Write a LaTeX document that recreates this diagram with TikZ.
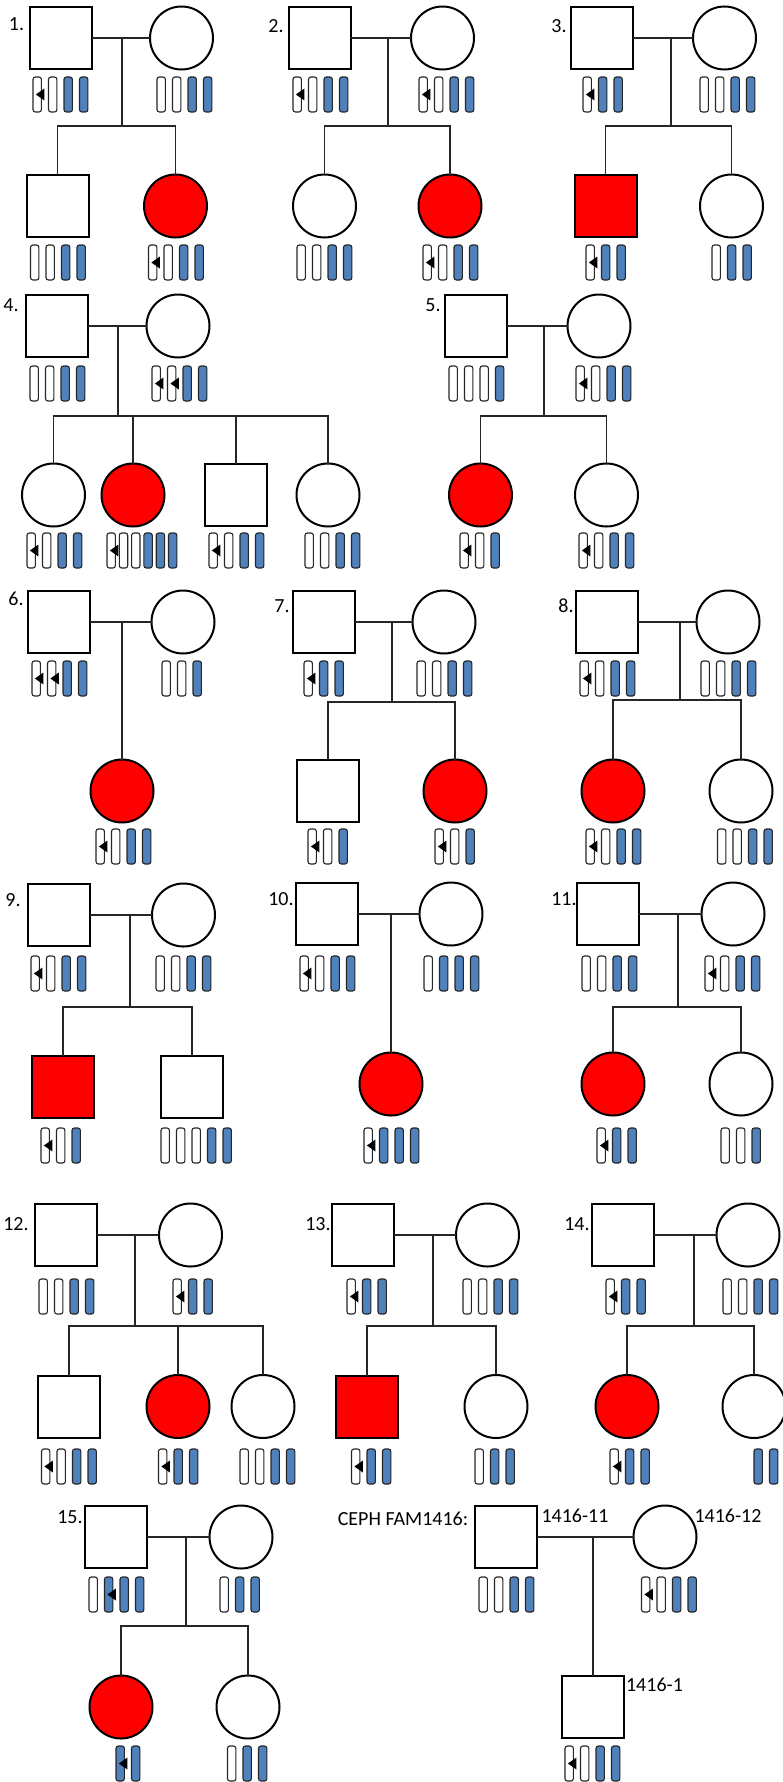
\documentclass[tikz,border=0pt]{standalone}
\usepackage{fontspec}
\setmainfont{Carlito}
\definecolor{alleleblue}{RGB}{79,129,189}
\definecolor{affected}{RGB}{255,0,0}

% one row of allele bars: name prefix, left x, top y, pitch, list of types
% types: w = plain, a = plain with variant mark, b = blue, c = blue with variant mark
\newcommand{\alleles}[5]{%
  \foreach \t [count=\i] in {#5} {%
    \node[allele-\t] (#1-\i) at ({#2+(\i-1)*#4},#3) {};
    \path[mut-\t] ([xshift=1.5pt]#1-\i.east) -- ++(0,6) -- ++(-8.5,-6) -- ++(8.5,-6) -- cycle;
  }%
}

\begin{document}
\begin{tikzpicture}[x=0.5pt,y=-0.5pt,
  male/.style={draw=black, line width=1pt, fill=white, minimum size=31pt, inner sep=0pt, outer sep=0pt},
  female/.style={circle, draw=black, line width=1pt, fill=white, minimum size=31.5pt, inner sep=0pt, outer sep=0pt},
  aff/.style={fill=affected},
  link/.style={draw=black!85, line width=0.75pt},
  allele/.style={draw=black!85, line width=0.55pt, rounded corners=1.2pt, minimum width=4.2pt, minimum height=17.5pt, inner sep=0pt, outer sep=0pt, anchor=north west},
  allele-w/.style={allele, fill=white},
  allele-a/.style={allele, fill=white},
  allele-b/.style={allele, fill=alleleblue},
  allele-c/.style={allele, fill=alleleblue},
  mut-w/.style={}, mut-b/.style={},
  mut-a/.style={fill=black}, mut-c/.style={fill=black},
  lab/.style={font=\fontsize{10}{12}\selectfont, inner sep=0pt}
]
\useasboundingbox (0,0) rectangle (782,1782);

% ================= family 1
\node[lab] (l1) at (16.5,24) {1.};
\node[male] (f1) at (61,38) {};
\node[female] (m1) at (181.5,38) {};
\node[male] (c1a) at (57.5,206) {};
\node[female,aff] (c1b) at (175.5,206) {};
\coordinate (j1) at (122,38); \coordinate (s1) at (122,126);
\draw[link] (f1) -- (m1); \draw[link] (j1) -- (s1);
\draw[link] (c1a.north) |- (s1) -| (c1b.north);
\alleles{f1g}{33}{77}{15.5}{a,w,b,b}
\alleles{m1g}{157}{77}{15.5}{w,w,b,b}
\alleles{c1ag}{30.5}{245}{15.5}{w,w,b,b}
\alleles{c1bg}{148.5}{245}{15.5}{a,w,b,b}

% ================= family 2
\node[lab] (l2) at (276,26) {2.};
\node[male] (f2) at (320,38) {};
\node[female] (m2) at (442.5,38) {};
\node[female] (c2a) at (324.5,206) {};
\node[female,aff] (c2b) at (450,206) {};
\coordinate (j2) at (388,38); \coordinate (s2) at (388,126);
\draw[link] (f2) -- (m2); \draw[link] (j2) -- (s2);
\draw[link] (c2a.north) |- (s2) -| (c2b.north);
\alleles{f2g}{293}{77}{15.5}{a,w,b,b}
\alleles{m2g}{419}{77}{15.5}{a,w,b,b}
\alleles{c2ag}{297}{245}{15.5}{w,w,b,b}
\alleles{c2bg}{423}{245}{15.5}{a,w,b,b}

% ================= family 3
\node[lab] (l3) at (559,26) {3.};
\node[male] (f3) at (601.5,38) {};
\node[female] (m3) at (724.5,38) {};
\node[male,aff] (c3a) at (605.5,206) {};
\node[female] (c3b) at (731.5,206) {};
\coordinate (j3) at (671,38); \coordinate (s3) at (671,126);
\draw[link] (f3) -- (m3); \draw[link] (j3) -- (s3);
\draw[link] (c3a.north) |- (s3) -| (c3b.north);
\alleles{f3g}{583}{77}{15.5}{a,b,b}
\alleles{m3g}{700}{77}{15.5}{w,w,b,b}
\alleles{c3ag}{586}{245}{15.5}{a,b,b}
\alleles{c3bg}{712}{245}{15.5}{w,b,b}

% ================= family 4
\node[lab] (l4) at (11,305) {4.};
\node[male] (f4) at (57,326) {};
\node[female] (m4) at (178,326) {};
\node[female] (c4a) at (53.5,495) {};
\node[female,aff] (c4b) at (133,495) {};
\node[male] (c4c) at (236,495) {};
\node[female] (c4d) at (328,495) {};
\coordinate (j4) at (118,326); \coordinate (s4) at (118,416);
\draw[link] (f4) -- (m4); \draw[link] (j4) -- (s4);
\draw[link] (c4a.north) |- (s4) -| (c4d.north);
\draw[link] (c4b.north) -- (c4b.north |- s4);
\draw[link] (c4c.north) -- (c4c.north |- s4);
\alleles{f4g}{30}{366}{15.5}{w,w,b,b}
\alleles{m4g}{152}{366}{15.5}{a,a,b,b}
\alleles{c4ag}{27}{533}{15.5}{a,w,b,b}
\alleles{c4bg}{107}{533}{12.3}{a,w,w,b,b,b}
\alleles{c4cg}{209}{533}{15.5}{a,w,b,b}
\alleles{c4dg}{305}{533}{15.5}{w,w,b,b}

% ================= family 5
\node[lab] (l5) at (433,305) {5.};
\node[male] (f5) at (476,326) {};
\node[female] (m5) at (599,326) {};
\node[female,aff] (c5a) at (480.5,495) {};
\node[female] (c5b) at (606.5,495) {};
\coordinate (j5) at (544,326); \coordinate (s5) at (544,416);
\draw[link] (f5) -- (m5); \draw[link] (j5) -- (s5);
\draw[link] (c5a.north) |- (s5) -| (c5b.north);
\alleles{f5g}{449}{366}{15.5}{w,w,w,b}
\alleles{m5g}{576}{366}{15.5}{a,w,b,b}
\alleles{c5ag}{460}{533}{15.5}{a,w,b}
\alleles{c5bg}{579}{533}{15.5}{a,w,b,b}

% ================= family 6
\node[lab] (l6) at (16,599) {6.};
\node[male] (f6) at (59,622) {};
\node[female] (m6) at (183,622) {};
\node[female,aff] (c6) at (122,791) {};
\coordinate (j6) at (122,622);
\draw[link] (f6) -- (m6); \draw[link] (j6) -- (c6);
\alleles{f6g}{32}{661}{15.5}{a,a,b,b}
\alleles{m6g}{162}{661}{15.5}{w,w,b}
\alleles{c6g}{96}{829}{15.5}{a,w,b,b}

% ================= family 7
\node[lab] (l7) at (282,606) {7.};
\node[male] (f7) at (324,622) {};
\node[female] (m7) at (444,622) {};
\node[male] (c7a) at (328,791) {};
\node[female,aff] (c7b) at (455,791) {};
\coordinate (j7) at (392,622); \coordinate (s7) at (392,702);
\draw[link] (f7) -- (m7); \draw[link] (j7) -- (s7);
\draw[link] (c7a.north) |- (s7) -| (c7b.north);
\alleles{f7g}{304}{661}{15.5}{a,b,b}
\alleles{m7g}{417}{661}{15.5}{w,w,b,b}
\alleles{c7ag}{308}{829}{15.5}{a,w,b}
\alleles{c7bg}{435}{829}{15.5}{a,w,b}

% ================= family 8
\node[lab] (l8) at (566,606) {8.};
\node[male] (f8) at (607,622) {};
\node[female] (m8) at (728,622) {};
\node[female,aff] (c8a) at (613,791) {};
\node[female] (c8b) at (741,791) {};
\coordinate (j8) at (680,622); \coordinate (s8) at (680,700);
\draw[link] (f8) -- (m8); \draw[link] (j8) -- (s8);
\draw[link] (c8a.north) |- (s8) -| (c8b.north);
\alleles{f8g}{580}{661}{15.5}{a,w,b,b}
\alleles{m8g}{701}{661}{15.5}{w,w,b,b}
\alleles{c8ag}{586}{829}{15.5}{a,w,b,b}
\alleles{c8bg}{717.5}{829}{15.5}{w,w,b,b}

% ================= family 9
\node[lab] (l9) at (13,900) {9.};
\node[male] (f9) at (59,915) {};
\node[female] (m9) at (183.5,915) {};
\node[male,aff] (c9a) at (63,1086.5) {};
\node[male] (c9b) at (192,1086.5) {};
\coordinate (j9) at (130,915); \coordinate (s9) at (130,1007);
\draw[link] (f9) -- (m9); \draw[link] (j9) -- (s9);
\draw[link] (c9a.north) |- (s9) -| (c9b.north);
\alleles{f9g}{31}{956}{15.5}{a,w,b,b}
\alleles{m9g}{156}{956}{15.5}{w,w,b,b}
\alleles{c9ag}{41}{1128}{15.5}{a,w,b}
\alleles{c9bg}{161}{1128}{15.5}{w,w,w,b,b}

% ================= family 10
\node[lab] (l10) at (281,899) {10.};
\node[male] (f10) at (327,914) {};
\node[female] (m10) at (451,914) {};
\node[female,aff] (c10) at (391,1084) {};
\coordinate (j10) at (391,914);
\draw[link] (f10) -- (m10); \draw[link] (j10) -- (c10);
\alleles{f10g}{300}{956}{15.5}{a,w,b,b}
\alleles{m10g}{424}{956}{15.5}{w,b,b,b}
\alleles{c10g}{364}{1128}{15.5}{a,b,b,b}

% ================= family 11
\node[lab] (l11) at (564,899) {11.};
\node[male] (f11) at (608,914) {};
\node[female] (m11) at (733,914) {};
\node[female,aff] (c11a) at (613,1084) {};
\node[female] (c11b) at (741,1084) {};
\coordinate (j11) at (678,914); \coordinate (s11) at (678,1007);
\draw[link] (f11) -- (m11); \draw[link] (j11) -- (s11);
\draw[link] (c11a.north) |- (s11) -| (c11b.north);
\alleles{f11g}{582}{956}{15.5}{w,w,b,b}
\alleles{m11g}{705}{956}{15.5}{a,w,b,b}
\alleles{c11ag}{597}{1128}{15.5}{a,b,b}
\alleles{c11bg}{721}{1128}{15.5}{w,w,b}

% ================= family 12
\node[lab] (l12) at (16,1224) {12.};
\node[male] (f12) at (66,1235) {};
\node[female] (m12) at (190.5,1235) {};
\node[male] (c12a) at (69,1406.5) {};
\node[female,aff] (c12b) at (178,1406.5) {};
\node[female] (c12c) at (263,1406.5) {};
\coordinate (j12) at (135,1235); \coordinate (s12) at (135,1326);
\draw[link] (f12) -- (m12); \draw[link] (j12) -- (s12);
\draw[link] (c12a.north) |- (s12) -| (c12c.north);
\draw[link] (c12b.north) -- (c12b.north |- s12);
\alleles{f12g}{39}{1279}{15.5}{w,w,b,b}
\alleles{m12g}{173}{1279}{15.5}{a,b,b}
\alleles{c12ag}{41.5}{1449}{15.5}{a,w,b,b}
\alleles{c12bg}{158.5}{1449}{15.5}{a,b,b}
\alleles{c12cg}{240}{1449}{15.5}{w,w,b,b}

% ================= family 13
\node[lab] (l13) at (318,1224) {13.};
\node[male] (f13) at (363,1235) {};
\node[female] (m13) at (487.5,1235) {};
\node[male,aff] (c13a) at (367,1406.5) {};
\node[female] (c13b) at (496,1406.5) {};
\coordinate (j13) at (433,1235); \coordinate (s13) at (433,1326);
\draw[link] (f13) -- (m13); \draw[link] (j13) -- (s13);
\draw[link] (c13a.north) |- (s13) -| (c13b.north);
\alleles{f13g}{347}{1279}{15.5}{a,b,b}
\alleles{m13g}{463}{1279}{15.5}{w,w,b,b}
\alleles{c13ag}{351.5}{1449}{15.5}{a,b,b}
\alleles{c13bg}{475}{1449}{15.5}{w,b,b}

% ================= family 14
\node[lab] (l14) at (577,1224) {14.};
\node[male] (f14) at (623,1235) {};
\node[female] (m14) at (748,1235) {};
\node[female,aff] (c14a) at (627,1406.5) {};
\node[female] (c14b) at (754,1406.5) {};
\coordinate (j14) at (694,1235); \coordinate (s14) at (694,1326);
\draw[link] (f14) -- (m14); \draw[link] (j14) -- (s14);
\draw[link] (c14a.north) |- (s14) -| (c14b.north);
\alleles{f14g}{606}{1279}{15.5}{a,b,b}
\alleles{m14g}{723}{1279}{15.5}{w,w,b,b}
\alleles{c14ag}{610}{1449}{15.5}{a,b,b}
\alleles{c14bg}{754}{1449}{15.5}{b,b}

% ================= family 15
\node[lab] (l15) at (70,1517) {15.};
\node[male] (f15) at (116,1537) {};
\node[female] (m15) at (241,1537) {};
\node[female,aff] (c15a) at (121,1707) {};
\node[female] (c15b) at (248,1707) {};
\coordinate (j15) at (186,1537); \coordinate (s15) at (186,1626);
\draw[link] (f15) -- (m15); \draw[link] (j15) -- (s15);
\draw[link] (c15a.north) |- (s15) -| (c15b.north);
\alleles{f15g}{89}{1577}{15.5}{w,c,b,b}
\alleles{m15g}{220}{1577}{15.5}{w,b,b}
\alleles{c15ag}{116}{1746}{15.5}{c,b}
\alleles{c15bg}{227.5}{1746}{15.5}{w,b,b}

% ================= CEPH family 1416
\node[lab] (lceph) at (403,1519) {CEPH FAM1416:};
\node[male] (f16) at (506,1537) {};
\node[female] (m16) at (665,1537) {};
\node[male] (c16) at (593,1707) {};
\node[lab] (lf16) at (575,1516) {1416-11};
\node[lab] (lm16) at (728,1516) {1416-12};
\node[lab] (lc16) at (654.5,1685) {1416-1};
\coordinate (j16) at (593,1537);
\draw[link] (f16) -- (m16); \draw[link] (j16) -- (c16);
\alleles{f16g}{479}{1577}{15.5}{w,w,b,b}
\alleles{m16g}{641.5}{1577}{15.5}{a,w,b,b}
\alleles{c16g}{565}{1746}{15.5}{a,w,b,b}

\end{tikzpicture}
\end{document}
